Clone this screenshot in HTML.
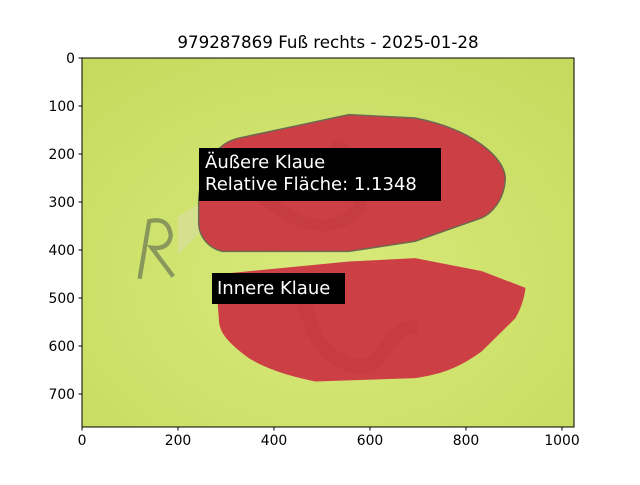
<!DOCTYPE html>
<html><head><meta charset="utf-8"><style>
body{margin:0;background:#fff;}
svg text{font-family:"DejaVu Sans","Liberation Sans",sans-serif;}
</style></head><body>
<svg width="640" height="480" viewBox="0 0 640 480">
<defs>
<radialGradient id="bg" cx="0.5" cy="0.6" r="0.75">
<stop offset="0" stop-color="#d8ea7c"/><stop offset="1" stop-color="#c6da5e"/>
</radialGradient>
</defs>
<text x="328" y="48" font-size="16.7" text-anchor="middle">979287869 Fuß rechts - 2025-01-28</text>
<g transform="translate(82,58) scale(0.48)">
<rect x="0" y="0" width="1024" height="768" fill="url(#bg)"/>
<path d="M200,330 L250,300 L250,360 L200,410 Z" fill="#d9dcae" opacity="0.5"/>
<path d="M120,460 L140,340 q40,-10 45,30 q-5,30 -40,25 l45,60" fill="none" stroke="#5a6450" stroke-width="9" opacity="0.6"/>
<path d="M243,292 C250,210 290,175 326,167 L556,118 L694,125 C820,150 880,210 882,250 C880,300 850,325 833,333 L694,382 L556,403 L292,403 C260,395 245,370 243,347 Z" fill="#cc3f44" stroke="#6a6a50" stroke-width="3"/>
<path d="M278,451 L556,424 L694,417 L833,444 L924,479 C920,510 910,530 903,542 L833,611 C780,650 740,660 694,667 L486,674 C420,660 380,645 347,625 C300,590 285,570 285,542 Z" fill="#cc3f44"/>
<path d="M420,460 C500,520 450,600 560,640 C640,660 620,560 700,560" fill="none" stroke="#bc343d" stroke-width="30" opacity="0.35"/>
<path d="M330,260 C420,320 480,380 560,330 C600,300 600,200 520,180" fill="none" stroke="#bc343d" stroke-width="25" opacity="0.3"/>
</g>
<rect x="82" y="58" width="492" height="369" fill="none" stroke="#000" stroke-width="1"/>
<rect x="199" y="148" width="242" height="53" fill="#000"/>
<text x="205" y="168" font-size="18" fill="#fff">Äußere Klaue</text>
<text x="205" y="190" font-size="18" fill="#fff">Relative Fläche: 1.1348</text>
<rect x="212" y="273" width="133" height="31" fill="#000"/>
<text x="217" y="294" font-size="18" fill="#fff">Innere Klaue</text>
<g id="xt"></g>
<g id="yt"></g>
</svg>
<script>
const xTicks=[0,200,400,600,800,1000];
const yTicks=[0,100,200,300,400,500,600,700];
const ns="http://www.w3.org/2000/svg";
const sx=v=>82+v*0.48, sy=v=>58+v*0.48;
const xg=document.getElementById('xt'), yg=document.getElementById('yt');
xTicks.forEach(v=>{
 const l=document.createElementNS(ns,'line');
 
 
 l.setAttribute('x1',sx(v));l.setAttribute('x2',sx(v));l.setAttribute('y1',427);l.setAttribute('y2',430.5);l.setAttribute('stroke','#000');
 xg.appendChild(l);
 const t=document.createElementNS(ns,'text');
 
 
 t.setAttribute('x',sx(v));t.setAttribute('y',445);t.setAttribute('font-size','13.9');t.setAttribute('text-anchor','middle');
 t.textContent=v;xg.appendChild(t);
});
yTicks.forEach(v=>{
 const l=document.createElementNS(ns,'line');
 
 
 l.setAttribute('x1',78.5);l.setAttribute('x2',82);l.setAttribute('y1',sy(v));l.setAttribute('y2',sy(v));l.setAttribute('stroke','#000');
 yg.appendChild(l);
 const t=document.createElementNS(ns,'text');
 
 
 t.setAttribute('x',75);t.setAttribute('y',sy(v)+5);t.setAttribute('font-size','13.9');t.setAttribute('text-anchor','end');
 t.textContent=v;yg.appendChild(t);
});
</script>
</body></html>
